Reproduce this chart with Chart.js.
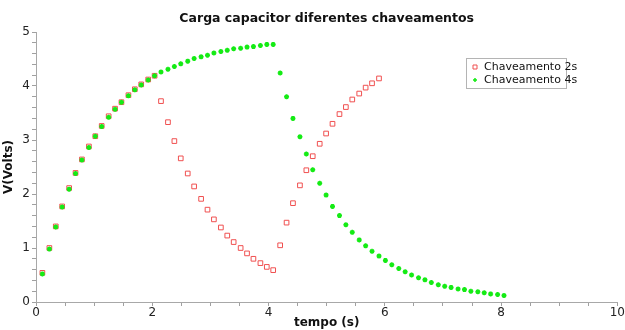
<!DOCTYPE html>
<html>
<head>
<meta charset="utf-8">
<script src="https://cdn.jsdelivr.net/npm/chart.js@4"></script>
<style>
  html, body { margin: 0; padding: 0; background: #fff; }
  #wrap { width: 625px; height: 330px; }
</style>
</head>
<body>
<div id="wrap"><canvas id="grafico" width="625" height="330"></canvas></div>
<script>
// ===========================
// Dados
// ===========================
const tempo = [
  0.11, 0.23, 0.34, 0.45, 0.57, 0.68, 0.79, 0.91, 1.02, 1.13,
  1.25, 1.36, 1.47, 1.59, 1.70, 1.81, 1.93, 2.04, 2.15, 2.27,
  2.38, 2.49, 2.61, 2.72, 2.84, 2.95, 3.06, 3.18, 3.29, 3.40,
  3.52, 3.63, 3.74, 3.86, 3.97, 4.08, 4.20, 4.31, 4.42, 4.54,
  4.65, 4.76, 4.88, 4.99, 5.10, 5.22, 5.33, 5.44, 5.56, 5.67,
  5.78, 5.90, 6.01, 6.12, 6.24, 6.35, 6.46, 6.58, 6.69, 6.80,
  6.92, 7.03, 7.14, 7.26, 7.37, 7.48, 7.60, 7.71, 7.82, 7.94,
  8.05
];

// Chaveamento 2s (52 pontos)
const tensao2s = [
  0.54, 1.00, 1.40, 1.77, 2.11, 2.39, 2.64, 2.88, 3.07, 3.26,
  3.44, 3.58, 3.70, 3.83, 3.94, 4.03, 4.12, 4.19, 3.72, 3.33,
  2.98, 2.66, 2.38, 2.14, 1.91, 1.71, 1.53, 1.38, 1.23, 1.11,
  1.00, 0.90, 0.80, 0.72, 0.65, 0.59, 1.05, 1.47, 1.83, 2.16,
  2.44, 2.70, 2.93, 3.12, 3.30, 3.48, 3.61, 3.75, 3.86, 3.97,
  4.05, 4.14
];

// Chaveamento 4s (71 pontos)
const tensao4s = [
  0.52, 0.98, 1.39, 1.76, 2.09, 2.38, 2.63, 2.86, 3.07, 3.25,
  3.42, 3.57, 3.70, 3.82, 3.93, 4.02, 4.11, 4.19, 4.26, 4.31,
  4.36, 4.41, 4.46, 4.51, 4.54, 4.57, 4.61, 4.64, 4.66, 4.69,
  4.70, 4.72, 4.73, 4.75, 4.77, 4.77, 4.24, 3.80, 3.40, 3.06,
  2.74, 2.45, 2.20, 1.98, 1.77, 1.60, 1.43, 1.29, 1.15, 1.04,
  0.94, 0.85, 0.77, 0.69, 0.62, 0.56, 0.50, 0.45, 0.41, 0.36,
  0.32, 0.29, 0.27, 0.24, 0.23, 0.20, 0.19, 0.17, 0.15, 0.14,
  0.12
];

const legendas = ["Chaveamento 2s", "Chaveamento 4s"];
const ticksX = [0, 2, 4, 6, 8, 10];
const ticksY = [0, 1, 2, 3, 4, 5];

const FONTE = "'DejaVu Sans', Verdana, sans-serif";
const VERMELHO = "rgb(240, 80, 80)";
const VERDE = "rgb(20, 235, 20)";

function pares(ys) {
  return ys.map((v, i) => ({ x: tempo[i], y: v }));
}

function ehInteiro(v, lista) {
  return lista.some(t => Math.abs(v - t) < 1e-6);
}

// ===========================
// Legenda desenhada à mão (caixa dentro da área)
// ===========================
const legendaPlugin = {
  id: "legendaCaixa",
  afterDraw(chart) {
    const ctx = chart.ctx;
    const x0 = 466, y0 = 58, w = 100, h = 30;
    ctx.save();
    ctx.fillStyle = "#fff";
    ctx.fillRect(x0, y0, w, h);
    ctx.strokeStyle = "#b4b4b4";
    ctx.lineWidth = 1;
    ctx.strokeRect(x0 + 0.5, y0 + 0.5, w, h);
    ctx.font = "11px " + FONTE;
    ctx.textBaseline = "middle";
    chart.data.datasets.forEach((ds, i) => {
      const yy = y0 + 9 + i * 13;
      const mx = x0 + 9;
      ctx.fillStyle = ds.backgroundColor;
      ctx.strokeStyle = ds.borderColor;
      ctx.lineWidth = ds.borderWidth;
      ctx.beginPath();
      if (ds.pointStyle === "rect") {
        ctx.rect(mx - 2, yy - 2, 4, 4);
        ctx.fill();
        ctx.stroke();
      } else {
        ctx.moveTo(mx - 2, yy); ctx.lineTo(mx + 2, yy);
        ctx.moveTo(mx, yy - 2); ctx.lineTo(mx, yy + 2);
        ctx.stroke();
      }
      ctx.fillStyle = "#111";
      ctx.fillText(legendas[i], x0 + 18, yy + 0.5);
    });
    ctx.restore();
  }
};

// ===========================
// Gráfico
// ===========================
const ctx = document.getElementById("grafico").getContext("2d");
new Chart(ctx, {
  type: "scatter",
  data: {
    datasets: [
      {
        label: legendas[0],
        data: pares(tensao2s),
        pointStyle: "rect",
        pointRadius: 3.3,
        pointHoverRadius: 3.3,
        borderWidth: 1,
        borderColor: VERMELHO,
        backgroundColor: "#fff",
        order: 2
      },
      {
        label: legendas[1],
        data: pares(tensao4s),
        pointStyle: "star",
        pointRadius: 2.5,
        pointHoverRadius: 2.5,
        borderWidth: 1.5,
        borderColor: VERDE,
        backgroundColor: VERDE,
        order: 1
      }
    ]
  },
  options: {
    responsive: false,
    animation: false,
    events: [],
    layout: { padding: { left: 0, right: 0, top: 0, bottom: 0 } },
    plugins: {
      legend: { display: false },
      tooltip: { enabled: false },
      title: {
        display: true,
        text: "Carga capacitor diferentes chaveamentos",
        fullSize: false,
        color: "#111",
        font: { family: FONTE, size: 12.5, weight: "bold" },
        padding: { top: 11, bottom: 6 }
      }
    },
    scales: {
      x: {
        type: "linear",
        min: 0,
        max: 10,
        border: { display: true, color: "#a8a8a8", width: 1 },
        grid: {
          display: true,
          drawOnChartArea: false,
          drawTicks: true,
          tickLength: 4,
          tickColor: "#a0a0a0"
        },
        ticks: {
          stepSize: 0.5,
          autoSkip: false,
          maxRotation: 0,
          padding: 0,
          color: "#222",
          font: { family: FONTE, size: 12 },
          callback: v => ehInteiro(v, ticksX) ? String(v) : ""
        },
        title: {
          display: true,
          text: "tempo (s)",
          color: "#111",
          font: { family: FONTE, size: 12, weight: "bold" },
          padding: { top: 0, bottom: 0 }
        },
        afterFit(scale) { scale.height = 28; }
      },
      y: {
        type: "linear",
        min: 0,
        max: 5,
        border: { display: true, color: "#a8a8a8", width: 1 },
        grid: {
          display: true,
          drawOnChartArea: false,
          drawTicks: true,
          tickLength: 4,
          tickColor: "#a0a0a0"
        },
        ticks: {
          stepSize: 0.2,
          autoSkip: false,
          padding: 2,
          color: "#222",
          font: { family: FONTE, size: 12 },
          callback: v => ehInteiro(v, ticksY) ? String(Math.round(v)) : ""
        },
        title: {
          display: true,
          text: "V(Volts)",
          color: "#111",
          font: { family: FONTE, size: 12, weight: "bold" },
          padding: { top: 2, bottom: 0 }
        },
        afterFit(scale) { scale.width = 36; }
      }
    }
  },
  plugins: [legendaPlugin]
});
</script>
</body>
</html>
